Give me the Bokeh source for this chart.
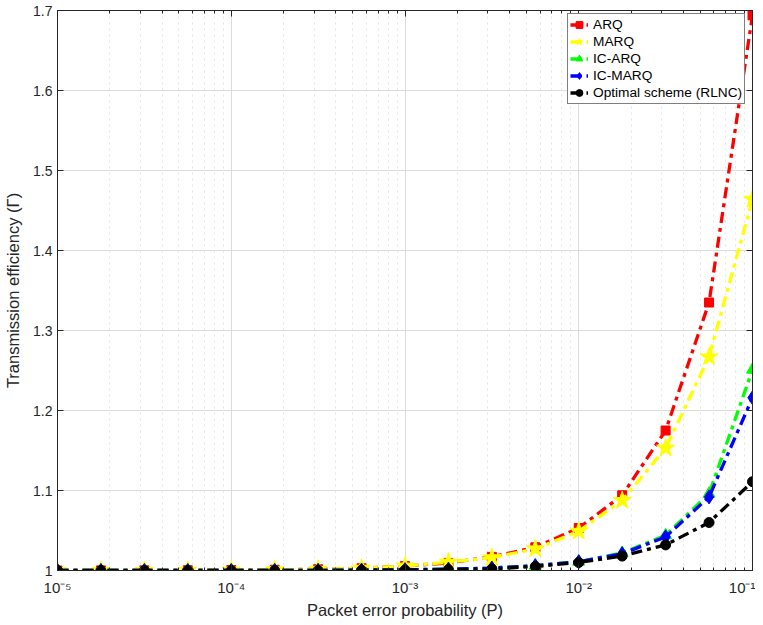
from bokeh.plotting import figure
from bokeh.models import (LogAxis, LinearAxis, FixedTicker, LogTicker, CustomJSTickFormatter,
                          Legend, LegendItem, Range1d)
from bokeh.embed import file_html
from bokeh.resources import INLINE

# Packet error probability samples (4 per decade)
P = [1e-5, 1.778e-5, 3.162e-5, 5.623e-5,
     1e-4, 1.778e-4, 3.162e-4, 5.623e-4,
     1e-3, 1.778e-3, 3.162e-3, 5.623e-3,
     1e-2, 1.778e-2, 3.162e-2, 5.623e-2, 1e-1]

arq = [1.0000, 1.0001, 1.0002, 1.0003, 1.0005, 1.0009, 1.0016, 1.0028,
       1.0055, 1.0095, 1.017, 1.029, 1.053, 1.094, 1.175, 1.335, 1.694]
marq = [1.0000, 1.0001, 1.0002, 1.0003, 1.0005, 1.0009, 1.0016, 1.0028,
        1.0055, 1.0105, 1.016, 1.027, 1.049, 1.0875, 1.153, 1.267, 1.464]
ic_arq = [1.0, 1.0, 1.0, 1.0, 1.0, 1.0001, 1.0002, 1.0005,
          1.001, 1.0017, 1.003, 1.006, 1.011, 1.022, 1.044, 1.096, 1.251]
ic_marq = [1.0, 1.0, 1.0, 1.0, 1.0, 1.0001, 1.0002, 1.0005,
           1.001, 1.0017, 1.003, 1.006, 1.011, 1.021, 1.042, 1.092, 1.216]
optimal = [1.0, 1.0, 1.0, 1.0, 1.0, 1.0, 1.0001, 1.0003,
           1.0005, 1.001, 1.002, 1.005, 1.010, 1.018, 1.032, 1.060, 1.111]

series = [
    ("ARQ", arq, "#ff0000", "square", 9),
    ("MARQ", marq, "#ffff00", "star", 19),
    ("IC-ARQ", ic_arq, "#00ff00", "triangle", 12),
    ("IC-MARQ", ic_marq, "#0000ff", "diamond", 14),
    ("Optimal scheme (RLNC)", optimal, "#000000", "circle", 10),
]

y_ticks = [1.0, 1.1, 1.2, 1.3, 1.4, 1.5, 1.6, 1.7]
x_labels = {1e-5: "10\u207b\u2075", 1e-4: "10\u207b\u2074", 1e-3: "10\u207b\u00b3",
            1e-2: "10\u207b\u00b2", 1e-1: "10\u207b\u00b9"}

FONT = "Liberation Sans"
AX = "#262626"

p = figure(width=755, height=622, x_axis_type="log",
           x_range=Range1d(1e-5, 1e-1), y_range=Range1d(1.0, 1.7),
           output_backend="svg", toolbar_location=None,
           min_border_left=57, min_border_right=3, min_border_top=10, min_border_bottom=52)
p.outline_line_color = AX
p.background_fill_color = "white"

yfmt = CustomJSTickFormatter(code="return tick.toFixed(1).replace(/\\.0$/, '');")

xa = p.xaxis[0]
xa.ticker = LogTicker(num_minor_ticks=10, desired_num_ticks=5)
xa.major_label_overrides = x_labels
xa.axis_label = "Packet error probability (P)"
ya = p.yaxis[0]
ya.ticker = FixedTicker(ticks=y_ticks)
ya.formatter = yfmt
ya.axis_label = "Transmission efficiency (\u0393)"

for ax in (xa, ya):
    ax.axis_line_color = AX
    ax.major_tick_line_color = AX
    ax.minor_tick_line_color = AX
    ax.major_tick_in = 6
    ax.major_tick_out = 0
    ax.minor_tick_in = 3
    ax.minor_tick_out = 0
    ax.major_label_text_font = FONT
    ax.major_label_text_color = AX
    ax.axis_label_text_font = FONT
    ax.axis_label_text_font_size = "16.5px"
    ax.axis_label_text_font_style = "normal"
    ax.axis_label_text_color = AX
xa.major_label_text_font_size = "15px"
ya.major_label_text_font_size = "14px"
ya.minor_tick_line_color = None
ya.major_label_standoff = 5
ya.axis_label_standoff = 8
xa.major_label_standoff = 8
xa.axis_label_standoff = 2

top = LogAxis(ticker=LogTicker(num_minor_ticks=10), major_label_text_font_size="1px",
              major_label_text_alpha=0, major_label_standoff=0,
              major_tick_in=6, major_tick_out=0, minor_tick_in=3, minor_tick_out=0,
              axis_line_color=AX, major_tick_line_color=AX, minor_tick_line_color=AX)
p.add_layout(top, "above")
right = LinearAxis(ticker=FixedTicker(ticks=y_ticks), major_label_text_font_size="1px",
                   major_label_text_alpha=0, major_label_standoff=0,
                   major_tick_in=6, major_tick_out=0, minor_tick_line_color=None,
                   axis_line_color=AX, major_tick_line_color=AX)
p.add_layout(right, "right")

p.xgrid.grid_line_color = "#dcdcdc"
p.xgrid.minor_grid_line_color = "#e4e4e4"
p.xgrid.minor_grid_line_dash = "dotted"
p.ygrid.ticker = ya.ticker
p.ygrid.grid_line_color = "#dcdcdc"

items = []
for label, ys, color, marker, size in series:
    lr = p.line(P, ys, line_color=color, line_width=3.3, line_dash="11 5 4 5")
    sr = p.scatter(P, ys, marker=marker, size=size, fill_color=color, line_color=color)
    items.append(LegendItem(label=label, renderers=[lr, sr]))

legend = Legend(items=items, location=(510, 466))
legend.border_line_color = "#000000"
legend.border_line_width = 1
legend.background_fill_color = "white"
legend.background_fill_alpha = 1
legend.label_text_font = FONT
legend.label_text_font_size = "13.7px"
legend.label_text_color = "#000000"
legend.glyph_width = 18
legend.glyph_height = 17
legend.label_height = 17
legend.spacing = 0
legend.padding = 2
legend.margin = 0
legend.label_standoff = 5
p.add_layout(legend)

open("out.html", "w").write(file_html(p, INLINE))
